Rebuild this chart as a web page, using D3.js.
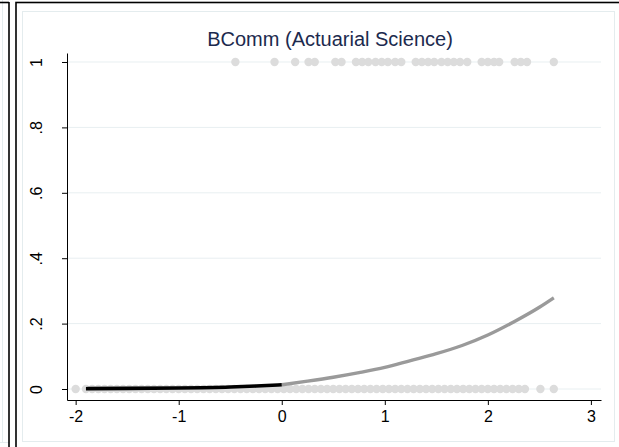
<!DOCTYPE html>
<html>
<head>
<meta charset="utf-8">
<script src="https://cdn.jsdelivr.net/npm/d3@7"></script>
<style>
  html, body { margin: 0; padding: 0; background: #fff; }
  svg { display: block; font-family: Arial, "Liberation Sans", sans-serif; }
</style>
</head>
<body>
<svg id="chart" width="619" height="447"></svg>
<script>
// Title of the panel
const title = "BComm (Actuarial Science)";

// Axis ticks
const xTicks = [-2, -1, 0, 1, 2, 3];
const xTickLabels = ["-2", "-1", "0", "1", "2", "3"];
const yTicks = [0, 0.2, 0.4, 0.6, 0.8, 1];
const yTickLabels = ["0", ".2", ".4", ".6", ".8", "1"];

// Observed outcomes: standardized score of students with outcome = 1
const obsOnes = [-0.45, -0.07, 0.13, 0.26, 0.32, 0.52, 0.58,
  0.72, 0.78, 0.84, 0.91, 0.97, 1.03, 1.10, 1.16,
  1.30, 1.36, 1.42, 1.48, 1.55, 1.61, 1.67, 1.73, 1.80,
  1.94, 2.00, 2.06, 2.11,
  2.26, 2.32, 2.38,
  2.64];

// Observed outcomes: standardized score of students with outcome = 0
const obsZeros = [-2.00,
  -1.90, -1.84, -1.78, -1.72, -1.66, -1.60, -1.54, -1.48, -1.42, -1.36,
  -1.30, -1.24, -1.18, -1.12, -1.06, -1.00, -0.94, -0.88, -0.82, -0.76,
  -0.70, -0.64, -0.58, -0.52, -0.46, -0.40, -0.34, -0.28, -0.22, -0.16,
  -0.10, -0.04, 0.02, 0.08, 0.14, 0.20, 0.26, 0.32, 0.38, 0.44,
  0.50, 0.56, 0.62, 0.68, 0.74, 0.80, 0.86, 0.92, 0.98, 1.04,
  1.10, 1.16, 1.22, 1.28, 1.34, 1.40, 1.46, 1.52, 1.58, 1.64,
  1.70, 1.76, 1.82, 1.88, 1.94, 2.00, 2.06, 2.12, 2.18, 2.24,
  2.30, 2.36,
  2.51, 2.64];

// Predicted probability, below the cut-off (black) and above it (grey)
const fitLowX = [-1.90, -1.50, -1.00, -0.50, -0.25, 0.00];
const fitLowY = [0.001, 0.002, 0.003, 0.006, 0.009, 0.013];
const fitHighX = [0.00, 0.25, 0.50, 0.75, 1.00, 1.25, 1.50, 1.75, 2.00, 2.25, 2.50, 2.64];
const fitHighY = [0.013, 0.024, 0.036, 0.050, 0.066, 0.087, 0.108, 0.133, 0.165, 0.205, 0.250, 0.279];

const FONT = "Arial, 'Liberation Sans', sans-serif";
const svg = d3.select("#chart");

// Panel frames: edge of the neighbouring panel and this panel's outer box
svg.append("line").attr("x1", 2.5).attr("x2", 2.5).attr("y1", 0).attr("y2", 443)
  .attr("stroke", "#e4ecee").attr("stroke-width", 1);
svg.append("line").attr("x1", 0).attr("x2", 9).attr("y1", 442.5).attr("y2", 442.5)
  .attr("stroke", "#e4ecee").attr("stroke-width", 1);
svg.append("line").attr("x1", 9).attr("x2", 9).attr("y1", 2).attr("y2", 447)
  .attr("stroke", "#000").attr("stroke-width", 1.6);
svg.append("line").attr("x1", 0).attr("x2", 9).attr("y1", 2.5).attr("y2", 2.5)
  .attr("stroke", "#000").attr("stroke-width", 1.6);
svg.append("rect").attr("x", 16).attr("y", 2.5).attr("width", 620).attr("height", 460)
  .attr("fill", "#fff").attr("stroke", "#000").attr("stroke-width", 1.6);
// inner plot-region box
svg.append("rect").attr("x", 22.5).attr("y", 11.5).attr("width", 592).attr("height", 430)
  .attr("fill", "#fff").attr("stroke", "#e4ecee").attr("stroke-width", 1);

// Scales
const x = d3.scaleLinear().domain([-2.084, 3.098]).range([67, 601]);
const y = d3.scaleLinear().domain([-0.0336, 1.0275]).range([400, 53]);

// Grid lines
svg.append("g").selectAll("line").data(yTicks).join("line")
  .attr("x1", 67).attr("x2", 601)
  .attr("y1", d => y(d)).attr("y2", d => y(d))
  .attr("stroke", "#e8eff1").attr("stroke-width", 1);

// Observed points
const dotColor = "#dcdcdc";
svg.append("g").selectAll("circle").data(obsZeros).join("circle")
  .attr("cx", d => x(d)).attr("cy", y(0)).attr("r", 4.2).attr("fill", dotColor);
svg.append("g").selectAll("circle").data(obsOnes).join("circle")
  .attr("cx", d => x(d)).attr("cy", y(1)).attr("r", 4.2).attr("fill", dotColor);

// Fitted curves
const line = d3.line().x(d => x(d[0])).y(d => y(d[1])).curve(d3.curveMonotoneX);
svg.append("path").datum(fitHighX.map((v, i) => [v, fitHighY[i]]))
  .attr("d", line).attr("fill", "none").attr("stroke", "#9a9a9a")
  .attr("stroke-width", 3.4).attr("stroke-linecap", "butt");
svg.append("path").datum(fitLowX.map((v, i) => [v, fitLowY[i]]))
  .attr("d", line).attr("fill", "none").attr("stroke", "#000")
  .attr("stroke-width", 3.6).attr("stroke-linecap", "butt");

// Axes
const xAxis = d3.axisBottom(x).tickValues(xTicks).tickSize(5).tickSizeOuter(0)
  .tickFormat((d, i) => xTickLabels[i]);
const gx = svg.append("g").attr("transform", "translate(0,400)").call(xAxis);
gx.select(".domain").attr("stroke", "#000");
gx.selectAll(".tick line").attr("stroke", "#000");
gx.selectAll(".tick text").attr("font-size", 16).attr("fill", "#000")
  .attr("font-family", FONT).attr("y", 22).attr("dy", null);

const yAxis = d3.axisLeft(y).tickValues(yTicks).tickSize(5).tickSizeOuter(0)
  .tickFormat((d, i) => yTickLabels[i]);
const gy = svg.append("g").attr("transform", "translate(67,0)").call(yAxis);
gy.select(".domain").attr("stroke", "#000");
gy.selectAll(".tick line").attr("stroke", "#000");
gy.selectAll(".tick text").attr("font-size", 16).attr("fill", "#000")
  .attr("font-family", FONT)
  .attr("x", null).attr("dy", null)
  .attr("text-anchor", "middle")
  .attr("transform", "translate(-31,0) rotate(-90)")
  .attr("dominant-baseline", "central");

// Title
svg.append("text").attr("x", 330).attr("y", 46).attr("text-anchor", "middle")
  .attr("font-size", 20).attr("font-family", FONT).attr("fill", "#1c2a4e").text(title);
</script>
</body>
</html>
